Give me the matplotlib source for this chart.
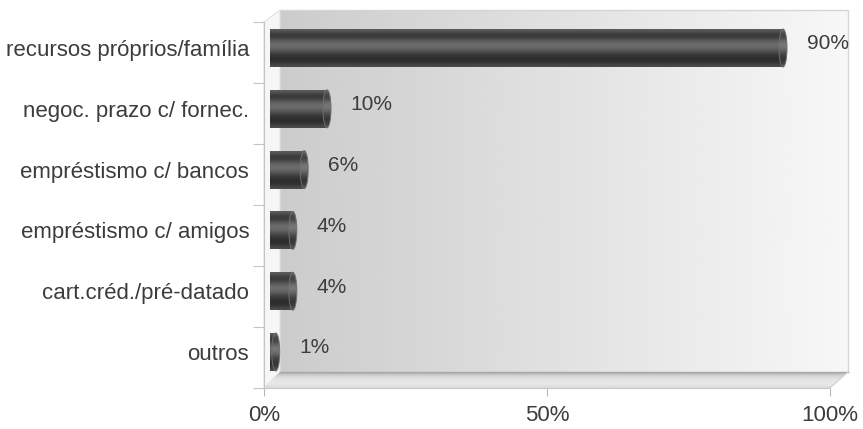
import numpy as np
import matplotlib
matplotlib.use("Agg")
import matplotlib.pyplot as plt
from matplotlib.patches import Ellipse, Polygon
from matplotlib.ticker import PercentFormatter

# --- data -------------------------------------------------------------
categories = [
    "recursos próprios/família",
    "negoc. prazo c/ fornec.",
    "empréstismo c/ bancos",
    "empréstismo c/ amigos",
    "cart.créd./pré-datado",
    "outros",
]
values = [90, 10, 6, 4, 4, 1]
x_ticks = [0, 50, 100]

# --- figure -----------------------------------------------------------
W, H = 863, 429
fig = plt.figure(figsize=(W / 100, H / 100), dpi=100)
fig.patch.set_facecolor("white")
plt.rcParams["font.family"] = ["Liberation Sans", "DejaVu Sans"]
TXT = "#3c3c3c"
FS = 16


def frac(x0, y0, x1, y1):
    """Pixel box (top-left origin) -> figure fraction rect."""
    return [x0 / W, 1 - y1 / H, (x1 - x0) / W, (y1 - y0) / H]


# background axes in pixel units for the 3D frame (walls + floor)
bg = fig.add_axes([0, 0, 1, 1], zorder=0)
bg.set_xlim(0, W)
bg.set_ylim(H, 0)
bg.axis("off")

# back wall: horizontal grey gradient
wall = np.linspace(0.80, 0.97, 256)[None, :]
bg.imshow(wall, cmap="gray", vmin=0, vmax=1, extent=(280, 848, 372, 10),
          aspect="auto", interpolation="bicubic", zorder=1)
bg.plot([280, 848, 848], [10, 10, 372], color="#d6d6d6", lw=1.0, zorder=2)

# left side wall
side_poly = Polygon([(264, 22), (280, 10), (280, 372), (264, 388)],
                    closed=True, facecolor="#f6f6f6", edgecolor="#e2e2e2",
                    lw=0.8, zorder=2)
bg.add_patch(side_poly)

# floor
floor_poly = Polygon([(264, 388), (830, 388), (848, 372), (280, 372)],
                     closed=True, facecolor="none", edgecolor="none", zorder=2)
bg.add_patch(floor_poly)
floor_grad = np.array([0.70, 0.80, 0.86, 0.89, 0.90, 0.91, 0.90, 0.86])[:, None]
im = bg.imshow(floor_grad, cmap="gray", vmin=0, vmax=1,
               extent=(264, 848, 388, 372), aspect="auto",
               interpolation="bilinear", zorder=2)
im.set_clip_path(floor_poly)
bg.plot([280, 848], [372, 372], color="#a8a8a8", lw=1.0, zorder=3)
bg.plot([830, 848], [388, 372], color="#d0d0d0", lw=0.8, zorder=3)

# --- category axis (left edge of the box) ----------------------------
side = fig.add_axes(frac(264, 22, 265, 388), zorder=1)
side.patch.set_visible(False)
side.set_ylim(len(categories) - 0.5, -0.5)
side.set_xticks([])
side.set_yticks(np.arange(-0.5, len(categories), 1.0))
side.set_yticklabels([])
side.tick_params(axis="y", length=8, color="#c4c4c4", width=0.8)
for s in ("top", "right", "bottom"):
    side.spines[s].set_visible(False)
side.spines["left"].set_color("#c4c4c4")
side.spines["left"].set_linewidth(0.8)

# --- value axis along the front edge of the floor --------------------
front = fig.add_axes(frac(264, 387, 830, 388), zorder=1)
front.patch.set_visible(False)
front.set_xlim(0, 100)
front.set_yticks([])
front.set_xticks(x_ticks)
front.xaxis.set_major_formatter(PercentFormatter(decimals=0))
front.tick_params(axis="x", length=6, color="#b8b8b8", width=0.8, pad=6,
                  labelsize=FS, labelcolor=TXT)
for s in ("top", "right", "left"):
    front.spines[s].set_visible(False)
front.spines["bottom"].set_color("#c8c8c8")
front.spines["bottom"].set_linewidth(0.8)

# --- bars -------------------------------------------------------------
ax = fig.add_axes(frac(270, 17.6, 840, 382.4), zorder=3)
ax.patch.set_visible(False)
ax.set_xlim(0, 100)
ax.set_ylim(len(categories) - 0.5, -0.5)
for s in ax.spines.values():
    s.set_visible(False)
ax.set_xticks([])
ax.set_yticks(range(len(categories)))
ax.set_yticklabels(categories, fontsize=FS, color=TXT)
ax.tick_params(axis="y", length=0, pad=15)

bar_h = 0.625
# vertical shading profile of a cylinder (top -> bottom)
shade = np.array([0.36, 0.24, 0.22, 0.30, 0.40, 0.43, 0.40, 0.32,
                  0.24, 0.19, 0.17, 0.20, 0.30])[:, None]
cap_shade = np.clip(shade + 0.04, 0, 1)
px_per_unit = 570 / 100
cap_w = 8 / px_per_unit

bars = ax.barh(range(len(categories)), values, height=bar_h, left=0,
               color="none", edgecolor="none")
for i, (rect, v) in enumerate(zip(bars, values)):
    y0, y1 = i - bar_h / 2, i + bar_h / 2
    body = ax.imshow(shade, cmap="gray", vmin=0, vmax=1,
                     extent=(0, v, y1, y0), aspect="auto",
                     interpolation="bicubic", zorder=3)
    body.set_clip_path(rect)
    cap = Ellipse((v, i), width=cap_w, height=bar_h, facecolor="none",
                  edgecolor="#6e6e6e", lw=0.7, zorder=5)
    ax.add_patch(cap)
    cap_im = ax.imshow(cap_shade, cmap="gray", vmin=0, vmax=1,
                       extent=(v - cap_w / 2, v + cap_w / 2, y1, y0),
                       aspect="auto", interpolation="bicubic", zorder=4)
    cap_im.set_clip_path(cap)
    ax.annotate(f"{v}%", xy=(v, i), xytext=(17, 3),
                textcoords="offset points", ha="left", va="center",
                fontsize=FS - 1, color=TXT)

ax.set_xlim(0, 100)
ax.set_ylim(len(categories) - 0.5, -0.5)

fig.savefig("out.png", dpi=100, facecolor="white")
